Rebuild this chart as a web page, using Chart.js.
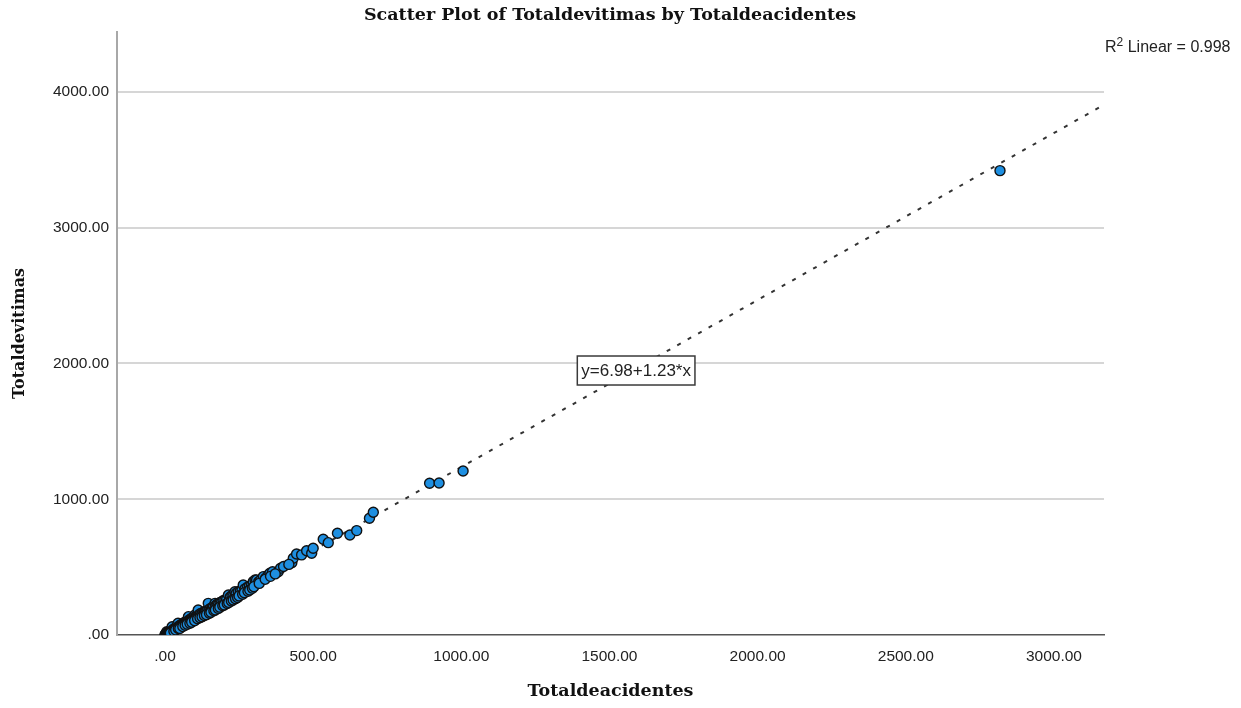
<!DOCTYPE html>
<html>
<head>
<meta charset="utf-8">
<script src="https://cdn.jsdelivr.net/npm/chart.js@4"></script>
<style>
  html, body { margin: 0; padding: 0; background: #ffffff; }
  #wrap { width: 1241px; height: 708px; }
</style>
</head>
<body>
<div id="wrap"><canvas id="c" width="1241" height="708"></canvas></div>
<script>
// Total accidents per record (x) and total victims (y)
const accidents = [
  0, 1, 2, 3, 4, 5, 6, 7, 8, 9, 10, 11, 12, 13, 14, 15, 16, 18, 19, 20, 21, 23, 24, 25, 27, 28, 30, 31, 33, 35,
  36, 38, 40, 42, 44, 45, 47, 49, 50, 52, 54, 56, 58,
  60, 62, 65, 67, 70, 72, 75, 78, 79, 80, 83, 86, 88, 90, 93, 96, 99, 101, 103, 106, 109, 112, 113, 117, 120,
  124, 128, 132, 135, 138, 142, 146, 148, 152, 156, 160, 164, 169, 172, 176, 181, 186, 191, 196,
  202, 208, 214, 220, 226, 232, 236, 240, 247, 254, 260, 264, 270, 278, 285, 292, 298, 304, 309, 316, 322,
  332, 340, 349, 354, 363,
  382, 390, 428, 433, 444, 461, 478, 495, 500, 534, 551, 582, 624, 647, 690, 703,
  893, 925, 1006, 2818,
  18, 30, 36, 45, 50, 60, 68, 75, 84, 90, 100, 110, 118, 125, 133, 140, 150, 155, 165, 170, 180, 185, 195,
  200, 210, 215, 224, 230, 238, 245, 250, 262, 268, 280, 286, 295, 300, 318, 338, 356, 372, 400, 418
];
const victims = [
  0, 3, 5, 4, 8, 12, 24, 10, 15, 11, 18, 14, 20, 17, 26, 19, 22, 28, 25, 30, 27, 35, 61, 33, 38, 36, 44, 40, 48, 45,
  52, 50, 58, 55, 86, 62, 60, 68, 64, 72, 70, 78, 75,
  84, 80, 92, 88, 96, 93, 104, 100, 135, 108, 112, 106, 120, 116, 126, 122, 130, 147, 134, 140, 136, 184, 145, 150, 158,
  154, 166, 162, 172, 176, 180, 233, 186, 194, 190, 204, 210, 233, 218, 226, 230, 240, 244, 252,
  258, 263, 295, 280, 290, 298, 319, 306, 318, 324, 334, 368, 340, 352, 360, 368, 393, 405, 405, 392, 402,
  430, 420, 442, 455, 466,
  466, 492, 533, 565, 597, 590, 621, 602, 639, 705, 680, 749, 737, 769, 860, 904,
  1118, 1120, 1208, 3420,
  15, 28, 38, 48, 48, 62, 72, 80, 86, 95, 106, 120, 128, 135, 143, 150, 160, 168, 178, 185, 196, 205, 215,
  222, 232, 240, 250, 258, 268, 276, 288, 300, 312, 322, 332, 345, 356, 380, 410, 432, 450, 505, 520
];

// Axis tick values
const xTickValues = [0, 500, 1000, 1500, 2000, 2500, 3000];
const yTickValues = [0, 1000, 2000, 3000, 4000];
const xRange = [-162, 3169];
const yRange = [0, 4441];

// Linear fit
const fitIntercept = 6.98;
const fitSlope = 1.23;
const rSquared = 0.998;
const fitLabelAt = 1590;

const chartTitle = 'Scatter Plot of Totaldevitimas by Totaldeacidentes';
const xTitle = 'Totaldeacidentes';
const yTitle = 'Totaldevitimas';

const points = accidents.map((a, i) => ({ x: a, y: victims[i] }));
const fitLine = [xTickValues[0], xRange[1]].map(v => ({ x: v, y: fitIntercept + fitSlope * v }));

const fmt = v => (v === 0 ? '.00' : v.toFixed(2));

const overlay = {
  id: 'overlay',
  afterDraw(chart) {
    const { ctx, scales: { x, y } } = chart;
    ctx.save();

    // chart title
    ctx.font = 'bold 17.5px "DejaVu Serif"';
    ctx.fillStyle = '#111111';
    ctx.textAlign = 'center';
    ctx.textBaseline = 'alphabetic';
    ctx.fillText(chartTitle, 610, 20);

    // R squared note
    let tx = 1105;
    const by = 52;
    ctx.textAlign = 'left';
    ctx.fillStyle = '#222222';
    ctx.font = '16px "Liberation Sans"';
    ctx.fillText('R', tx, by);
    tx += ctx.measureText('R').width;
    ctx.font = '12px "Liberation Sans"';
    ctx.fillText('2', tx, by - 6);
    tx += ctx.measureText('2').width;
    ctx.font = '16px "Liberation Sans"';
    ctx.fillText(' Linear = ' + rSquared.toFixed(3), tx, by);

    // equation box on the fit line
    const px = x.getPixelForValue(fitLabelAt);
    const py = y.getPixelForValue(fitIntercept + fitSlope * fitLabelAt) + 2;
    const label = 'y=' + fitIntercept.toFixed(2) + '+' + fitSlope.toFixed(2) + '*x';
    ctx.font = '17px "Liberation Sans"';
    const w = ctx.measureText(label).width + 8;
    const h = 29;
    ctx.fillStyle = '#ffffff';
    ctx.fillRect(px - w / 2, py - h / 2, w, h);
    ctx.strokeStyle = '#3a3a3a';
    ctx.lineWidth = 1.5;
    ctx.strokeRect(px - w / 2, py - h / 2, w, h);
    ctx.fillStyle = '#222222';
    ctx.textAlign = 'center';
    ctx.textBaseline = 'middle';
    ctx.fillText(label, px, py + 1);

    ctx.restore();
  }
};

new Chart(document.getElementById('c'), {
  data: {
    datasets: [
      {
        type: 'scatter',
        data: points,
        order: 1,
        pointRadius: 5,
        pointHoverRadius: 5,
        borderWidth: 1.4,
        backgroundColor: '#1e8fe1',
        borderColor: '#111111'
      },
      {
        type: 'line',
        data: fitLine,
        order: 2,
        borderColor: '#333333',
        borderWidth: 2,
        borderDash: [4, 8],
        pointRadius: 0,
        fill: false,
        tension: 0
      }
    ]
  },
  options: {
    responsive: false,
    devicePixelRatio: 1,
    animation: false,
    layout: { padding: { left: 0, top: 32, right: 137, bottom: 0 } },
    plugins: {
      legend: { display: false },
      tooltip: { enabled: false },
      title: { display: false }
    },
    scales: {
      x: {
        type: 'linear',
        min: xRange[0],
        max: xRange[1],
        afterBuildTicks: s => { s.ticks = xTickValues.map(v => ({ value: v })); },
        afterFit: s => { s.height = 73; },
        ticks: {
          callback: v => fmt(v),
          padding: 12,
          color: '#222222',
          font: { family: 'Liberation Sans', size: 15.5 },
          maxRotation: 0
        },
        grid: { display: false, drawTicks: false },
        border: { display: true, color: '#555555', width: 1.5 },
        title: {
          display: true,
          text: xTitle,
          color: '#111111',
          font: { family: 'DejaVu Serif', size: 17.5, weight: 'bold' },
          padding: { top: 0, bottom: 6 }
        }
      },
      y: {
        type: 'linear',
        min: yRange[0],
        max: yRange[1],
        afterBuildTicks: s => { s.ticks = yTickValues.map(v => ({ value: v })); },
        afterFit: s => { s.width = 117; },
        ticks: {
          callback: v => fmt(v),
          padding: 8,
          color: '#222222',
          font: { family: 'Liberation Sans', size: 15.5 }
        },
        grid: {
          drawTicks: false,
          lineWidth: 2,
          color: c => (c.tick && c.tick.value === 0 ? 'rgba(0,0,0,0)' : '#d6d6d6')
        },
        border: { display: true, color: '#a8a8a8', width: 2 },
        title: {
          display: true,
          text: yTitle,
          color: '#111111',
          font: { family: 'DejaVu Serif', size: 16, weight: 'bold' },
          padding: { top: 10, bottom: 0 }
        }
      }
    }
  },
  plugins: [overlay]
});
</script>
</body>
</html>
